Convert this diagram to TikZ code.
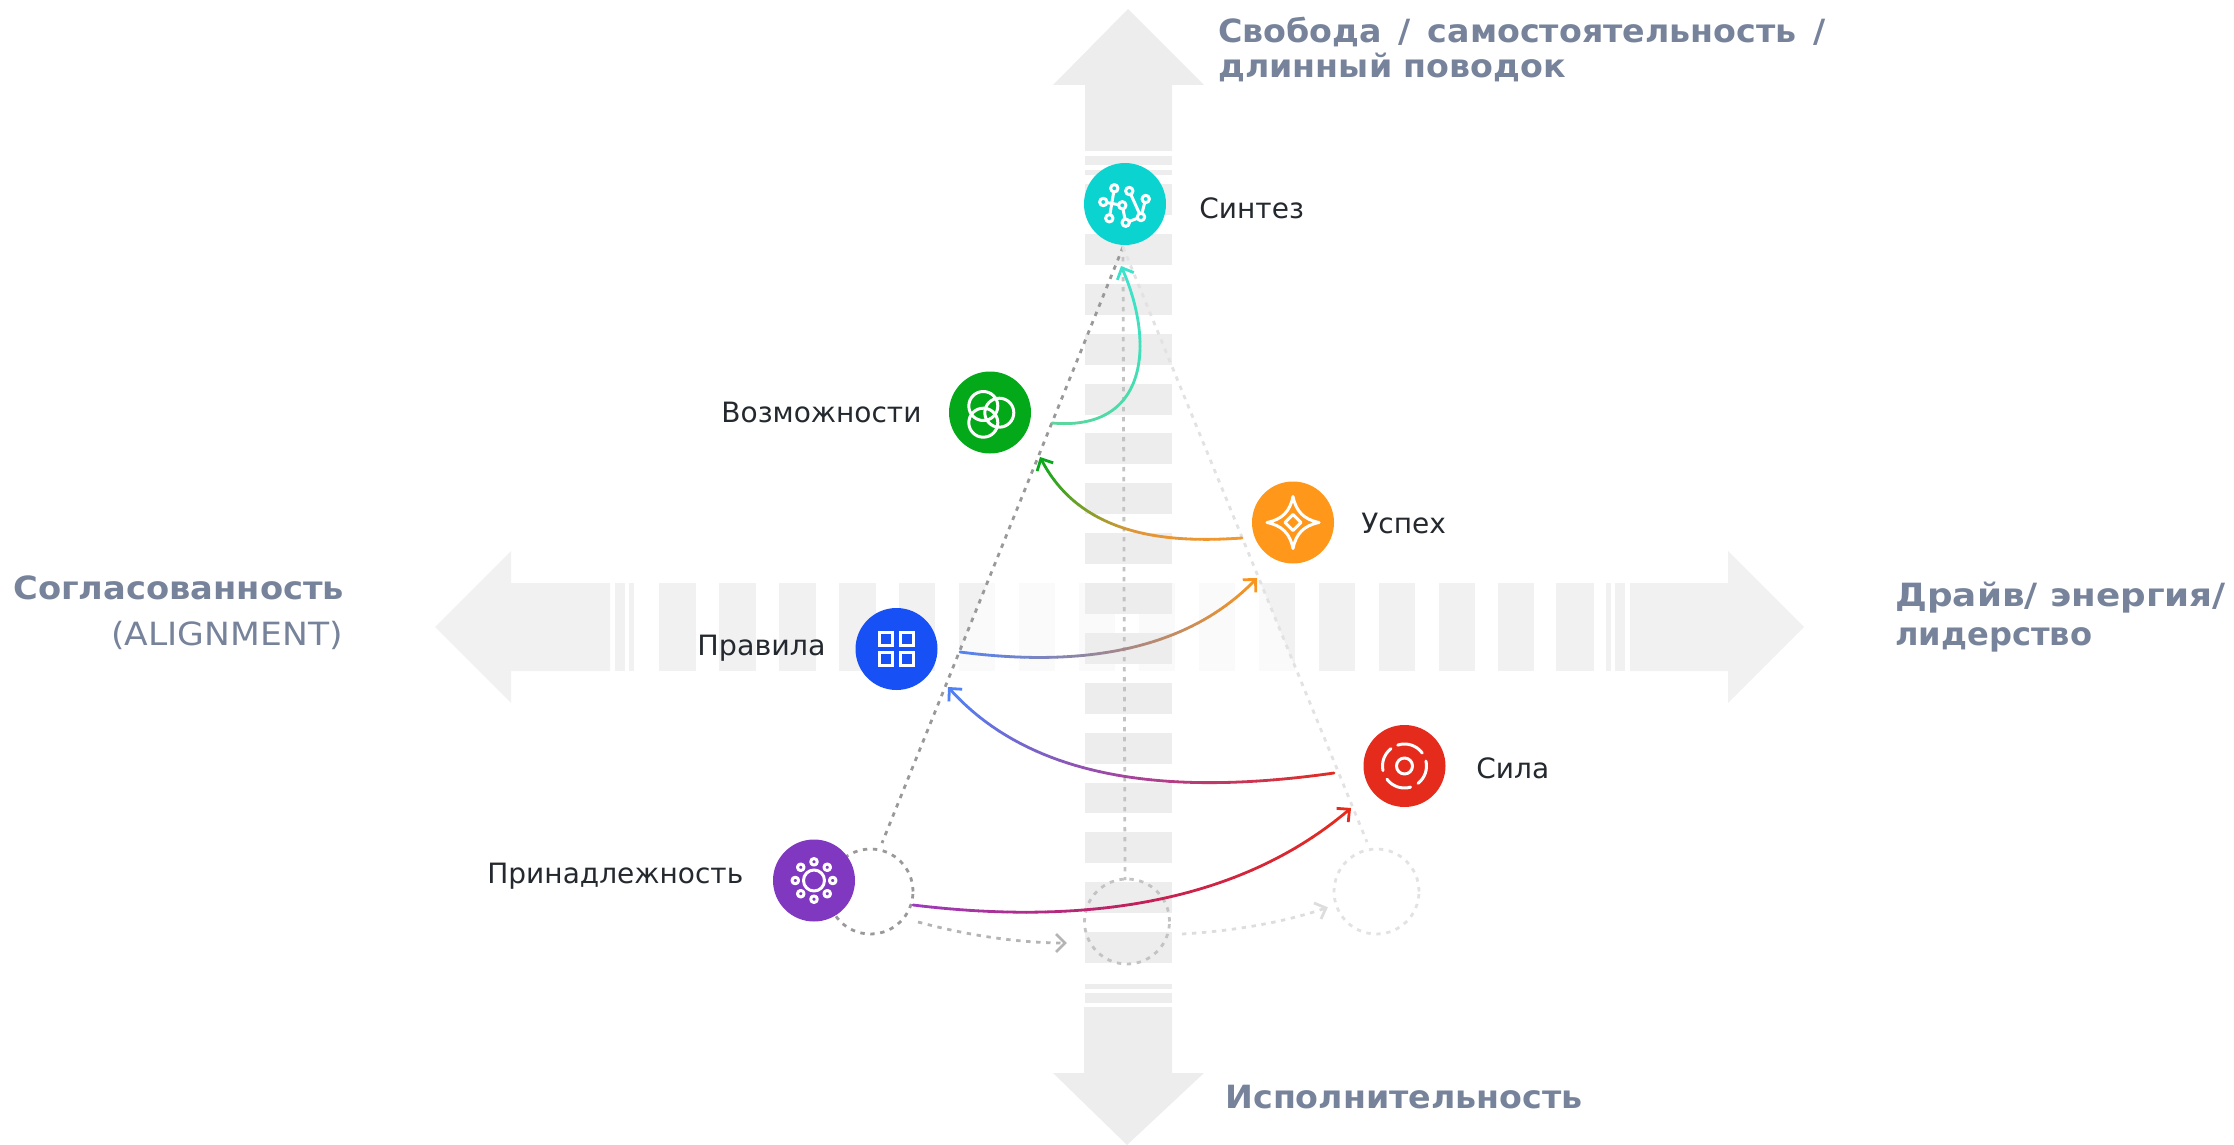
\documentclass[tikz,border=0pt]{standalone}
\usepackage{graphicx}
\usepackage{fontspec}
\setmainfont{DejaVu Sans}
\newfontfamily\axbold[BoldFeatures={FakeStretch=1.04}]{DejaVu Sans}
\newfontfamily\axreg[FakeStretch=1.08]{DejaVu Sans}
\usetikzlibrary{arrows.meta,calc}
\definecolor{hbar}{HTML}{F1F1F1}
\definecolor{vbar}{HTML}{EDEDED}
\definecolor{axistxt}{HTML}{76839A}
\definecolor{lbltxt}{HTML}{24292F}
\definecolor{cteal}{HTML}{0BD3CF}
\definecolor{cgreen}{HTML}{04A919}
\definecolor{corange}{HTML}{FF971A}
\definecolor{cblue}{HTML}{1750F5}
\definecolor{cred}{HTML}{E52B1C}
\definecolor{cpurple}{HTML}{8138C1}
\definecolor{lineA}{HTML}{999999}
\definecolor{lineB}{HTML}{C3C3C3}
\definecolor{lineC}{HTML}{E2E2E2}
\definecolor{dashA}{HTML}{B4B4B4}
\definecolor{dashB}{HTML}{DDDDDD}
\definecolor{mint}{HTML}{5CD69C}
\definecolor{mintb}{HTML}{45DDB2}
\definecolor{aqua}{HTML}{3CE3CC}
\definecolor{ogr}{HTML}{F7972A}
\definecolor{olive}{HTML}{DF9638}
\definecolor{ggr}{HTML}{08A91A}
\definecolor{lblue}{HTML}{4F82F7}
\definecolor{mauve}{HTML}{A08690}
\definecolor{lorg}{HTML}{F7951E}
\definecolor{rmid}{HTML}{A6439C}
\definecolor{lpur}{HTML}{9A3CC0}
\definecolor{crim}{HTML}{C2205A}
\tikzset{
  lbl/.style={anchor=base west,inner sep=0pt,text=lbltxt,font=\fontsize{14}{16}\selectfont},
  axl/.style={anchor=base west,inner sep=0pt,text=axistxt,font=\axbold\fontsize{16}{18}\selectfont\bfseries},
  axr/.style={anchor=base east,inner sep=0pt,text=axistxt,font=\axreg\fontsize{16}{18}\selectfont},
  dot/.style={circle,minimum size=41pt,inner sep=0pt,draw=none},
  ring/.style={circle,minimum size=42.5pt,inner sep=0pt},
  ico/.style={draw=white,line width=1.5pt,line join=round,line cap=round},
  gdash/.style={line width=1.4pt,dash pattern=on 2.2pt off 2.8pt},
  barb/.style={-{Straight Barb[length=4.6pt,width=9pt,line width=1.4pt]}},
}
% gradient connector: start, control 1, control 2, end, three colours
\newcommand{\gradcurve}[7]{%
  \coordinate (gprev) at (#1);
  \foreach \k in {1,...,48}{%
    \pgfmathsetmacro{\tt}{\k/48}
    \pgfmathsetmacro{\mixv}{\k<=24 ? \k/24*100 : (\k-24)/24*100}
    \ifnum\k>24 \colorlet{segc}{#7!\mixv!#6}\else\colorlet{segc}{#6!\mixv!#5}\fi
    \coordinate (gnext) at ($($($(#1)!\tt!(#2)$)!\tt!($(#2)!\tt!(#3)$)$)!\tt!($($(#2)!\tt!(#3)$)!\tt!($(#3)!\tt!(#4)$)$)$);
    \ifnum\k=48
      \draw[segc,line width=1.4pt,barb] (gprev) -- (#4);
    \else
      \draw[segc,line width=1.4pt,line cap=round] (gprev) -- (gnext);
    \fi
    \coordinate (gprev) at (gnext);
  }%
}
\begin{document}
\begin{tikzpicture}[x=0.5pt,y=-0.5pt]
\useasboundingbox (0,0) rectangle (2234,1145);
% horizontal axis
\fill[hbar] (435,627) -- (511,551) -- (511,583) -- (610,583) -- (610,671) -- (511,671) -- (511,703) -- cycle;
\foreach \a/\b in {615/625,629/634,659/696,719/756,779/816,839/876,899/935,959/995,1019/1055,1079/1115,1139/1175,1199/1235,1259/1295,1319/1355,1379/1415,1439/1475,1498/1534,1556/1594,1606/1611,1615/1625}
  \fill[hbar] (\a,583) rectangle (\b,671);
\fill[hbar] (1804,627) -- (1728,551) -- (1728,583) -- (1630,583) -- (1630,671) -- (1728,671) -- (1728,703) -- cycle;
% translucent triangle
\coordinate (apex) at (1123,247);
\coordinate (triL) at (882,843);
\coordinate (triR) at (1367,843);
\fill[white,opacity=0.7] (apex) -- (triL) -- (triR) -- cycle;
% vertical axis
\fill[vbar] (1128,9) -- (1204,85) -- (1172,85) -- (1172,151) -- (1085,151) -- (1085,85) -- (1053,85) -- cycle;
\foreach \a/\b in {156/165,170/175,184/215,234/265,284/315,334/365,384/415,433/464,483/514,533/564,583/614,633/664,683/714,733/764,783/813,832/863,882/913,932/963,984/989,993/1003}
  \fill[vbar] (1085,\a) rectangle (1172,\b);
\fill[vbar] (1127,1145) -- (1204,1073) -- (1172,1073) -- (1172,1007) -- (1084,1007) -- (1084,1073) -- (1053,1073) -- cycle;
% dashed circles
\node[ring,draw=lineA,gdash] (ringL) at (870.5,891.5) {};
\node[ring,draw=lineB,gdash] (ringM) at (1127,921.5) {};
\node[ring,draw=lineC,gdash] (ringR) at (1376.5,891.5) {};
% dashed lines
\coordinate (ringLtop) at (882,843);
\coordinate (ringMtop) at (1125,880);
\coordinate (ringRtop) at (1367,842);
\draw[gdash,draw=lineA] (apex) -- (ringLtop);
\draw[gdash,draw=lineB] (apex) -- (ringMtop);
\draw[gdash,draw=lineC] (apex) -- (ringRtop);
% dashed arrows
\coordinate (dA) at (918,922);
\coordinate (dB) at (1065,943);
\draw[gdash,draw=dashA] (dA) .. controls (970,936) and (1020,943) .. (dB);
\draw[line width=1.4pt,draw=dashA] (1056,934) -- (dB) -- (1056,952);
\coordinate (dC) at (1182,934);
\coordinate (dD) at (1326,908);
\draw[gdash,draw=dashB] (dC) .. controls (1235,931) and (1285,922) .. (dD);
\draw[line width=1.4pt,draw=dashB] (1314,903) -- (dD) -- (1321,919);
% icon discs
\node[dot,fill=cteal] (synth) at (1125,204) {};
\node[dot,fill=cgreen] (vozm) at (990,412.5) {};
\node[dot,fill=corange] (uspeh) at (1293,522.5) {};
\node[dot,fill=cblue] (prav) at (896.5,649) {};
\node[dot,fill=cred] (sila) at (1404.5,766) {};
\node[dot,fill=cpurple] (prin) at (814,880.5) {};
% coloured connectors
\coordinate (a1) at (1052,423); \coordinate (a1c) at (1150,432); \coordinate (a1d) at (1155,340); \coordinate (a1e) at (1121,266);
\gradcurve{a1}{a1c}{a1d}{a1e}{mint}{mintb}{aqua}
\coordinate (a2) at (1242,538); \coordinate (a2c) at (1170,543); \coordinate (a2d) at (1080,538); \coordinate (a2e) at (1040,457);
\gradcurve{a2}{a2c}{a2d}{a2e}{ogr}{olive}{ggr}
\coordinate (a3) at (960,652); \coordinate (a3c) at (1060,665); \coordinate (a3d) at (1180,660); \coordinate (a3e) at (1257,578);
\gradcurve{a3}{a3c}{a3d}{a3e}{lblue}{mauve}{lorg}
\coordinate (a4) at (1334,773); \coordinate (a4c) at (1200,792); \coordinate (a4d) at (1040,792); \coordinate (a4e) at (948,687);
\gradcurve{a4}{a4c}{a4d}{a4e}{cred}{rmid}{lblue}
\coordinate (a5) at (913,905); \coordinate (a5c) at (1060,923); \coordinate (a5d) at (1230,913); \coordinate (a5e) at (1351,808);
\gradcurve{a5}{a5c}{a5d}{a5e}{lpur}{crim}{cred}
% icons
\begin{scope}[shift={(synth)},x=0.5pt,y=0.5pt]
  \draw[ico] (-10.7,15.7) -- (-15.7,-14.3) (-21.7,2) -- (-2.7,-1.3) -- (0.7,-18.7) -- (16,-13) -- (4.3,13) (16,-13) -- (20.7,5);
  \foreach \p in {(-10.7,15.7),(4.3,13),(20.7,5),(-21.7,2),(-2.7,-1.3),(-15.7,-14.3),(0.7,-18.7),(16,-13)}
    \draw[ico,fill=cteal] \p circle (3.7);
\end{scope}
\begin{scope}[shift={(vozm)},x=0.5pt,y=0.5pt]
  \draw[ico] (-6.7,6.5) circle (14.5) (9.3,-0.2) circle (14.5) (-6.7,-10.2) circle (14.5);
\end{scope}
\begin{scope}[shift={(uspeh)},x=0.5pt,y=0.5pt]
  \draw[ico] (0,26) .. controls (3,11) and (11,3) .. (26,0) .. controls (11,-3) and (3,-11) .. (0,-26) .. controls (-3,-11) and (-11,-3) .. (-26,0) .. controls (-11,3) and (-3,11) .. cycle;
  \draw[ico] (0,8) -- (8,0) -- (0,-8) -- (-8,0) -- cycle;
\end{scope}
\begin{scope}[shift={(prav)},x=0.5pt,y=0.5pt]
  \foreach \sx/\sy in {-1/1,1/1,-1/-1,1/-1}
    \draw[draw=white,line width=1.6pt] (\sx*10.2-6.5,\sy*10.2-6.5) rectangle (\sx*10.2+6.5,\sy*10.2+6.5);
\end{scope}
\begin{scope}[shift={(sila)},x=0.5pt,y=0.5pt]
  \draw[ico] (0,0) circle (8);
  \draw[ico] (36:22) arc (36:108:22) (-52:22) arc (-52:13:22) (-143:22) arc (-143:-74:22) (128:22) arc (128:192:22);
\end{scope}
\begin{scope}[shift={(prin)},x=0.5pt,y=0.5pt]
  \draw[ico] (0,0) circle (10.5);
  \foreach \an in {0,45,...,315}
    \draw[ico,fill=cpurple] (\an:18.7) circle (3.3);
\end{scope}
% labels
\node[lbl] (tSynth) at (1199,219) {Синтез};
\node[lbl] (tVozm) at (721,422) {Возможности};
\node[lbl] (tUsp) at (1361,533) {Успех};
\node[lbl] (tPrav) at (697,655) {\scalebox{1.02}[1]{Правила}};
\node[lbl] (tSila) at (1476,778) {Сила};
\node[lbl] (tPrin) at (487,883) {Принадлежность};
% axis labels
\node[axl] (tTop1) at (1218,43) {\spaceskip=8.4pt Свобода / самостоятельность /};
\node[axl] (tTop2) at (1218,78) {длинный поводок};
\node[axl] (tBot) at (1225,1108) {Исполнительность};
\node[axl] (tR1) at (1895,606) {\scalebox{1.075}[1]{Драйв/ энергия/}};
\node[axl] (tR2) at (1895,645) {\scalebox{0.965}[1]{лидерство}};
\node[axl] (tL1) at (13,599) {\scalebox{1.013}[1]{Согласованность}};
\node[axr] (tL2) at (343,645) {(ALIGNMENT)};
\end{tikzpicture}
\end{document}
